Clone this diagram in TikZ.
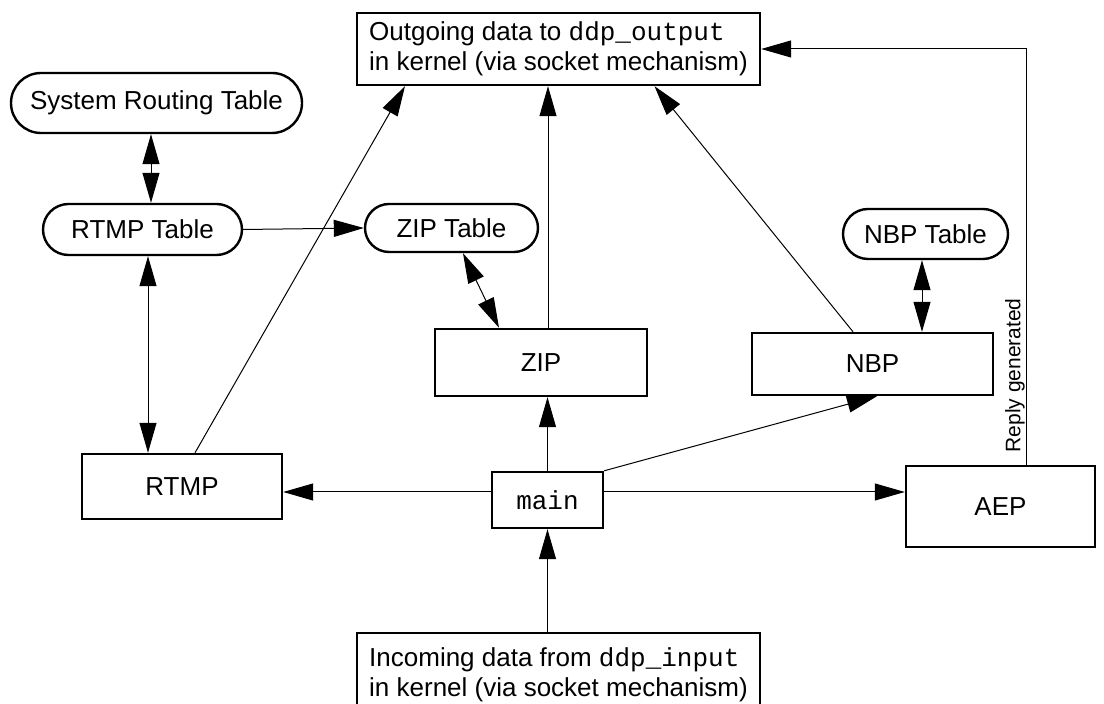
\documentclass[tikz,border=0pt]{standalone}
\usepackage{fontspec}
\setmainfont{Liberation Sans}
\setmonofont{Liberation Mono}
\usetikzlibrary{arrows.meta,positioning}
\newcommand{\ddpcall}[1]{\texttt{#1}}
\tikzset{
  module/.style={draw, line width=1.2pt, inner sep=0pt, align=center},
  tablebox/.style={draw, line width=1.2pt, rounded corners=#1, inner sep=0pt},
  kernelbox/.style={draw, line width=1.2pt, inner sep=0pt, align=left,
    minimum width=201.5pt, minimum height=36pt},
  flow/.style={-{Triangle[length=15pt,width=8.5pt]}, line width=0.5pt},
  both/.style={{Triangle[length=15pt,width=8.5pt]}-{Triangle[length=15pt,width=8.5pt]}, line width=0.5pt},
}

\begin{document}
\begin{tikzpicture}[x=0.5pt, y=-0.5pt, font=\fontsize{13}{15}\selectfont]
  \useasboundingbox (0,0) rectangle (1104,704);

  \node[kernelbox] (out) at (558.5,49) {Outgoing data to \ddpcall{ddp\_output}\\in kernel (via socket mechanism)};
  \node[kernelbox, minimum height=42pt, anchor=north] (in) at (558.5,632) {Incoming data from \ddpcall{ddp\_input}\\in kernel (via socket mechanism)};

  \node[tablebox=15pt, minimum width=145.5pt, minimum height=30pt] (srt) at (156.5,103) {System Routing Table};
  \node[tablebox=12.75pt, minimum width=99.5pt, minimum height=25.5pt] (rtmptab) at (142.5,229.5) {RTMP Table};
  \node[tablebox=12pt, minimum width=86.5pt, minimum height=24pt] (ziptab) at (451.5,228) {ZIP Table};
  \node[tablebox=12.5pt, minimum width=82.5pt, minimum height=25pt] (nbptab) at (925.5,234) {NBP Table};

  \node[module, minimum width=106pt, minimum height=33.5pt] (zip) at (541,362.5) {ZIP};
  \node[module, minimum width=120.5pt, minimum height=31pt] (nbp) at (872.5,364) {NBP};
  \node[module, minimum width=100pt, minimum height=32.5pt] (rtmp) at (182,486.5) {RTMP};
  \node[module, minimum width=55.5pt, minimum height=28pt] (main) at (547.5,500) {\texttt{main}};
  \node[module, minimum width=94.5pt, minimum height=40.5pt] (aep) at (1000.5,506.5) {AEP};

  \draw[both] ([xshift=-2.75pt]srt.south) -- ([xshift=-2.75pt]srt.south |- rtmptab.north);
  \draw[both] ([xshift=2.75pt]rtmptab.south) -- ([xshift=2.75pt]rtmptab.south |- rtmp.north);
  \draw[flow] (rtmptab.east) -- (ziptab.west);
  \draw[both] ([xshift=5.75pt]ziptab.south) -- ([xshift=-21pt]zip.north);
  \draw[both] ([xshift=-1.75pt]nbptab.south) -- ([xshift=-1.75pt]nbptab.south |- nbp.north);

  \draw[flow] ([xshift=6.5pt]rtmp.north) -- ([xshift=-76.75pt]out.south);
  \draw[flow] ([xshift=3.5pt]zip.north) -- ([xshift=3.5pt]zip.north |- out.south);
  \draw[flow] ([xshift=-9.75pt]nbp.north) -- ([xshift=48pt]out.south);

  \draw[flow] (main.north) -- (main.north |- zip.south);
  \draw[flow] ([yshift=4pt]main.west) -- ([yshift=4pt]main.west -| rtmp.east);
  \draw[flow] ([yshift=4pt]main.east) -- ([yshift=4pt]main.east -| aep.west);
  \draw[flow] (main.north east) -- ([xshift=2.25pt]nbp.south);
  \draw[flow] (in.north -| main.south) -- (main.south);

  \draw[flow] ([xshift=12.75pt]aep.north) |- (out.east);
  \node[font=\fontsize{10.5}{12}\selectfont, rotate=90, anchor=south west, inner sep=0.5pt] (reply) at ([xshift=12.75pt, yshift=5.5pt]aep.north) {Reply generated};
\end{tikzpicture}
\end{document}
